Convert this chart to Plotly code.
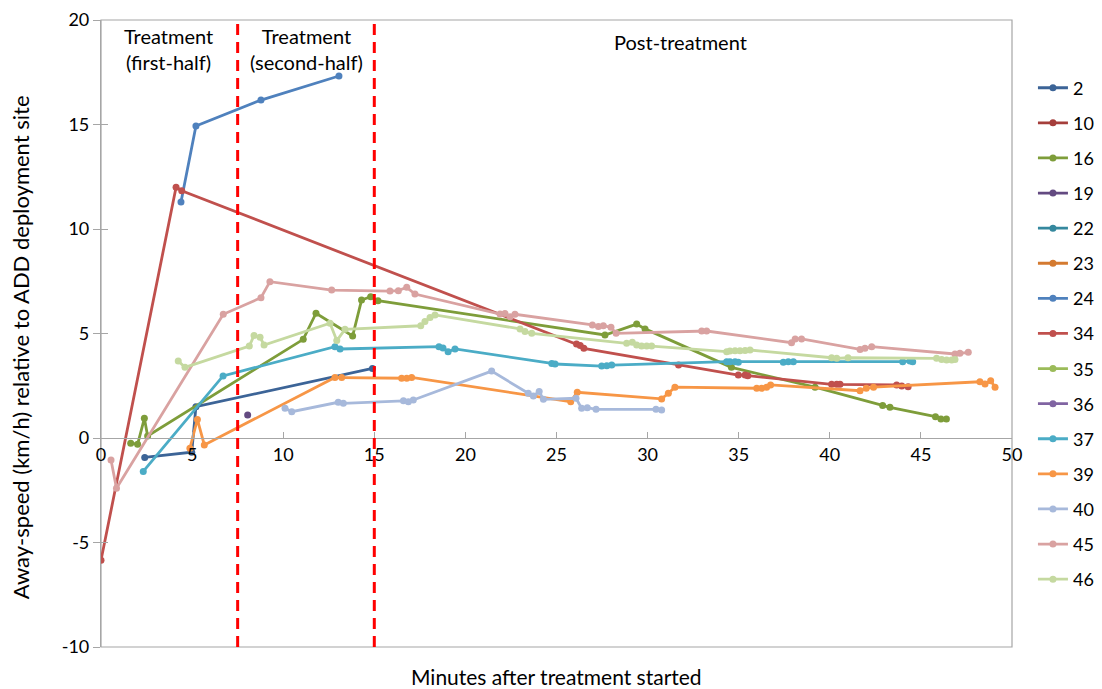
import plotly.graph_objects as go

# ---------------- data ----------------
series_names = ["2", "10", "16", "19", "22", "23", "24", "34", "35", "36", "37", "39", "40", "45", "46"]
series_colors = ["#3C6497", "#A53E3B", "#7E9D3A", "#634A81", "#35889E", "#D47A30",
                 "#4F81BD", "#C0504D", "#9BBB59", "#8064A2", "#4BACC6", "#F79646",
                 "#A7B9DB", "#D9A2A1", "#C5D9A0"]

s2_x = [2.4, 4.98, 5.21, 14.9]
s2_y = [-0.93, -0.68, 1.5, 3.33]

s10_x = []
s10_y = []

s16_x = [1.63, 2.01, 2.38, 2.56, 11.1, 11.8, 13.81, 14.3, 14.8, 15.2,
         27.66, 29.4, 29.86, 34.6, 39.19, 42.9, 43.3, 45.8, 46.1, 46.4]
s16_y = [-0.25, -0.3, 0.94, 0.1, 4.72, 5.97, 4.88, 6.6, 6.76, 6.57,
         4.93, 5.45, 5.22, 3.38, 2.43, 1.55, 1.47, 1.02, 0.91, 0.91]

s19_x = [8.05]
s19_y = [1.1]

s22_x = []
s22_y = []
s23_x = []
s23_y = []

s24_x = [4.39, 5.21, 8.78, 13.06]
s24_y = [11.29, 14.93, 16.17, 17.32]

s34_x = [0, 4.12, 4.43, 26.1, 26.3, 26.5, 31.7, 34.98, 35.35, 35.5,
         40.1, 40.38, 40.56, 43.67, 43.95, 44.3]
s34_y = [-5.85, 12.0, 11.83, 4.5, 4.42, 4.29, 3.49, 3.01, 3.01, 2.98,
         2.57, 2.57, 2.57, 2.54, 2.49, 2.45]

s35_x = []
s35_y = []
s36_x = []
s36_y = []

s37_x = [2.32, 6.7, 12.84, 13.12, 18.55, 18.77, 19.05, 19.43, 24.74, 24.92,
         27.48, 27.76, 28.03, 34.34, 34.52, 34.8, 34.98, 37.45, 37.72, 38.0,
         44.0, 44.4, 44.55]
s37_y = [-1.6, 2.97, 4.37, 4.26, 4.37, 4.31, 4.13, 4.26, 3.57, 3.54,
         3.44, 3.46, 3.49, 3.65, 3.65, 3.65, 3.62, 3.62, 3.65, 3.65,
         3.65, 3.68, 3.65]

s39_x = [4.88, 5.29, 5.67, 12.84, 13.21, 16.5, 16.78, 17.05, 25.78, 26.14,
         30.77, 31.14, 31.5, 35.99, 36.26, 36.53, 36.75, 41.66, 42.0, 42.4,
         48.24, 48.52, 48.83, 49.07]
s39_y = [-0.49, 0.89, -0.33, 2.9, 2.89, 2.86, 2.86, 2.9, 1.74, 2.19,
         1.87, 2.14, 2.43, 2.38, 2.38, 2.43, 2.54, 2.26, 2.38, 2.43,
         2.69, 2.58, 2.74, 2.43]

s40_x = [10.1, 10.47, 13.02, 13.3, 16.6, 16.87, 17.14, 21.44, 23.45, 23.73,
         24.05, 24.28, 26.07, 26.38, 26.69, 27.17, 30.46, 30.77]
s40_y = [1.42, 1.26, 1.71, 1.66, 1.78, 1.74, 1.82, 3.2, 2.14, 2.01,
         2.22, 1.85, 1.9, 1.42, 1.45, 1.37, 1.37, 1.34]

s45_x = [0.55, 0.85, 6.71, 8.78, 9.27, 12.66, 15.86, 16.32, 16.78, 17.23,
         21.9, 22.17, 22.45, 22.72, 26.97, 27.3, 27.57, 27.99, 28.27, 32.97,
         33.24, 37.9, 38.1, 38.45, 41.66, 41.93, 42.3, 46.87, 47.14, 47.6]
s45_y = [-1.05, -2.4, 5.92, 6.71, 7.48, 7.08, 7.03, 7.05, 7.21, 6.89,
         5.93, 5.96, 5.8, 5.92, 5.41, 5.33, 5.37, 5.3, 5.01, 5.12,
         5.12, 4.56, 4.74, 4.74, 4.24, 4.29, 4.37, 4.02, 4.05, 4.1]

s46_x = [4.24, 4.61, 8.14, 8.4, 8.73, 8.95, 12.57, 12.94, 13.39, 17.55,
         17.78, 18.06, 18.33, 23.0, 23.27, 23.64, 28.85, 29.16, 29.4, 29.67,
         29.95, 30.22, 34.34, 34.52, 34.8, 35.07, 35.35, 35.62, 40.1, 40.38,
         41.0, 45.86, 46.14, 46.41, 46.69, 46.87]
s46_y = [3.68, 3.38, 4.4, 4.91, 4.82, 4.45, 5.49, 4.66, 5.2, 5.37,
         5.57, 5.76, 5.89, 5.22, 5.09, 5.01, 4.53, 4.58, 4.45, 4.4,
         4.4, 4.4, 4.13, 4.16, 4.18, 4.18, 4.19, 4.21, 3.84, 3.81,
         3.84, 3.81, 3.76, 3.73, 3.73, 3.76]

series_x = [s2_x, s10_x, s16_x, s19_x, s22_x, s23_x, s24_x, s34_x, s35_x, s36_x,
            s37_x, s39_x, s40_x, s45_x, s46_x]
series_y = [s2_y, s10_y, s16_y, s19_y, s22_y, s23_y, s24_y, s34_y, s35_y, s36_y,
            s37_y, s39_y, s40_y, s45_y, s46_y]

x_ticks = [0, 5, 10, 15, 20, 25, 30, 35, 40, 45, 50]
y_ticks = [-10, -5, 0, 5, 10, 15, 20]
y_tick_labels = ["-10", "-5", "0", "5", "10", "15", "20"]
phase_bounds = [7.5, 15]
phase_labels = ["Treatment<br>(first-half)", "Treatment<br>(second-half)", "Post-treatment"]
phase_label_x = [3.68, 11.3, 31.8]
phase_label_y = [18.6, 18.6, 18.95]

FONT = "Lato, 'Open Sans', sans-serif"
AXIS_GREY = "#A6A6A6"

fig = go.Figure()

for name, col, xs, ys in zip(series_names, series_colors, series_x, series_y):
    fig.add_trace(go.Scatter(
        x=xs if xs else [None], y=ys if ys else [None],
        name=name, mode="lines+markers",
        line=dict(color=col, width=2.8),
        marker=dict(color=col, size=7),
        legendgroup=name,
        showlegend=True,
    ))

for b in phase_bounds:
    fig.add_shape(type="line", xref="x", yref="y", x0=b, x1=b, y0=y_ticks[0], y1=y_ticks[-1],
                  line=dict(color="#FF0000", width=3, dash="11px,7px"), layer="above")

# plot border
fig.add_shape(type="rect", xref="x domain", yref="y domain", x0=0, x1=1, y0=0, y1=1,
              line=dict(color=AXIS_GREY, width=1.2), layer="below")

for txt, lx, ly in zip(phase_labels, phase_label_x, phase_label_y):
    fig.add_annotation(x=lx, y=ly, xref="x", yref="y", text=txt, showarrow=False,
                       yanchor="middle", font=dict(family=FONT, size=20, color="#000000"),
                       align="center")

fig.add_annotation(x=0.5, y=-0.024, xref="paper", yref="paper", yanchor="top",
                   text="Minutes after treatment started", showarrow=False,
                   font=dict(family=FONT, size=21, color="#000000"))

fig.add_annotation(x=-0.0889, y=0.478, xref="paper", yref="paper", xanchor="center",
                   yanchor="middle", textangle=-90,
                   text="Away-speed (km/h) relative to ADD deployment site", showarrow=False,
                   font=dict(family=FONT, size=22, color="#000000"))

fig.update_layout(
    width=1102, height=689,
    margin=dict(l=101, r=90, t=20, b=42, autoexpand=False),
    plot_bgcolor="white", paper_bgcolor="white",
    font=dict(family=FONT, size=17, color="#000000"),
    showlegend=True,
    legend=dict(x=1.023, xanchor="left", y=0.921, yanchor="top",
                font=dict(family=FONT, size=18), tracegroupgap=8.7,
                itemwidth=30, bgcolor="rgba(0,0,0,0)"),
    xaxis=dict(range=[0, 50], tickvals=x_ticks, showgrid=False, zeroline=False,
               anchor="free", position=1/3, showline=True, linecolor=AXIS_GREY, linewidth=1.2,
               ticks="inside", ticklen=6, tickcolor=AXIS_GREY,
               tickfont=dict(family=FONT, size=18)),
    yaxis=dict(range=[-10, 20], tickvals=y_ticks, ticktext=y_tick_labels,
               showgrid=False, zeroline=False,
               showline=True, linecolor=AXIS_GREY, linewidth=1.2,
               ticks="outside", ticklen=7, tickcolor=AXIS_GREY,
               tickfont=dict(family=FONT, size=18)),
    yaxis2=dict(range=[-10, 20], tickvals=y_ticks, overlaying="y", side="left",
                showgrid=False, zeroline=False, showline=False, showticklabels=False,
                ticks="inside", ticklen=7, tickcolor=AXIS_GREY),
)

# dummy trace to activate yaxis2 cross ticks
fig.add_trace(go.Scatter(x=[None], y=[None], yaxis="y2", showlegend=False, hoverinfo="skip"))

fig.write_html("out.html")
